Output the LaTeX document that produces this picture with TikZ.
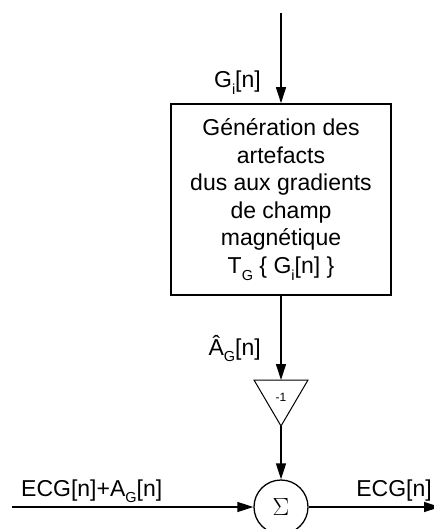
\documentclass[tikz,border=0pt]{standalone}
\usepackage{fontspec}
\setmainfont{Liberation Sans}
\usetikzlibrary{arrows.meta}
\newcommand\lowsub[1]{\raisebox{-0.3em}{\fontsize{14.5pt}{14.5pt}\selectfont #1}}
\begin{document}
\begin{tikzpicture}[x=1pt,y=-1pt,
  wire/.style={line width=1.3pt},
  arr/.style={wire,-{Triangle[length=16pt,width=10pt]}},
  lbl/.style={font=\fontsize{23pt}{27.5pt}\selectfont, inner sep=0pt},
  blockbox/.style={draw,line width=1.6pt,minimum width=220pt,minimum height=191pt,
    align=center,font=\fontsize{23pt}{27.5pt}\selectfont,inner sep=0pt}]
\useasboundingbox (0,0) rectangle (433,529);
% nodes
\coordinate (start) at (281,13);
\node[blockbox] (gen) at (281,199.5) {Génération des\\artefacts\\dus aux gradients\\de champ\\magnétique\\T\lowsub{G} \{ G\lowsub{i}[n] \}};
\coordinate (tl) at (254,380);
\coordinate (tr) at (308,380);
\coordinate (tritop) at (281,380);
\coordinate (apex) at (281,426);
\draw[line width=1pt,fill=white] (tl) -- (tr) -- (apex) -- cycle;
\node[font=\fontsize{12pt}{12pt}\selectfont,inner sep=0pt] (gain) at (281,397) {-1};
\node[draw,circle,line width=1.3pt,minimum size=54pt,inner sep=0pt] (sum) at (281,507) {\fontsize{26pt}{26pt}\selectfont$\Sigma$};
\coordinate (in) at (12,507);
\coordinate (out) at (440,507);
% connectors
\draw[arr] (start) -- (gen.north -| start);
\draw[arr] (gen.south -| start) -- (tritop);
\draw[arr] (apex) -- (sum.north);
\draw[arr] (in) -- (sum.west);
\draw[arr] (sum.east) -- (out);
% labels
\node[lbl,anchor=base east] (lg) at (261,88) {G\lowsub{i}[n]};
\node[lbl,anchor=base east] (la) at (261,355) {Â\lowsub{G}[n]};
\node[lbl,anchor=base west] (lin) at (21,496) {ECG[n]+A\lowsub{G}[n]};
\node[lbl,anchor=base east] (lout) at (432,496) {ECG[n]};
\end{tikzpicture}
\end{document}
